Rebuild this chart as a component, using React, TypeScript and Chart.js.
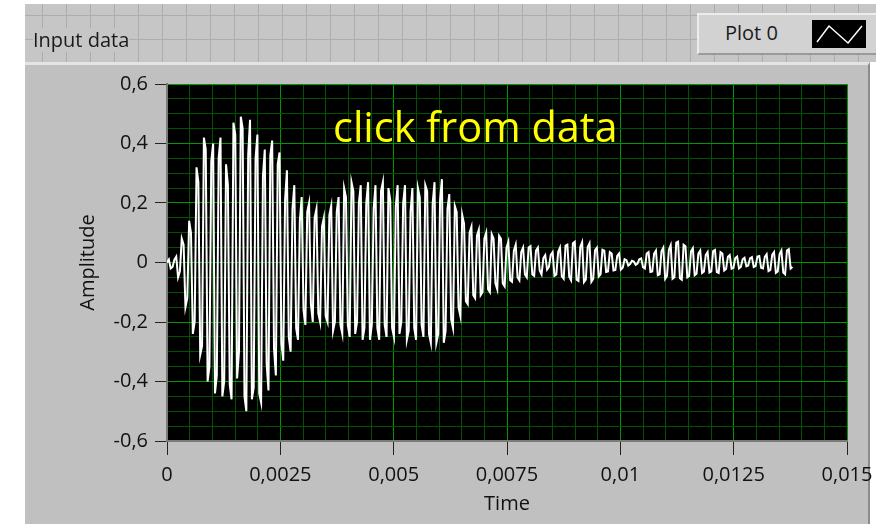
import React, { useEffect, useRef } from 'react';
import { Chart, registerables } from 'chart.js';

Chart.register(...registerables);

// ---- data ----
const sampleInterval = 0.0000407; // seconds between samples
const amplitude: number[] = [
  0, 0.01, -0.02, -0.015, 0.01, 0.02, -0.05, -0.03, 0.08, 0.06, -0.15, -0.12, 0.14, 0.1, -0.24, -0.2, 0.32, 0.27, -0.31, -0.28,
  0.42, 0.38, -0.4, -0.35, 0.34, 0.4, -0.44, -0.38, 0.35, 0.42, -0.45, -0.4, 0.33, 0.26, -0.41, -0.46, 0.47, 0.43, -0.39, -0.3,
  0.49, 0.45, -0.45, -0.5, 0.36, 0.48, -0.46, -0.42, 0.35, 0.43, -0.44, -0.47, 0.29, 0.38, -0.34, -0.43, 0.36, 0.41, -0.29, -0.38,
  0.33, 0.37, -0.27, -0.33, 0.21, 0.31, -0.25, -0.3, 0.18, 0.26, -0.22, -0.26, 0.14, 0.22, -0.16, -0.21, 0.17, 0.2, -0.14, -0.2,
  0.15, 0.18, -0.17, -0.2, 0.12, 0.15, -0.18, -0.2, 0.16, 0.19, -0.23, -0.2, 0.17, 0.22, -0.21, -0.24, 0.25, 0.22, -0.21, -0.25,
  0.27, 0.24, -0.24, -0.2, 0.2, 0.26, -0.26, -0.22, 0.2, 0.27, -0.26, -0.21, 0.18, 0.26, -0.22, -0.26, 0.24, 0.27, -0.21, -0.25,
  0.25, 0.21, -0.22, -0.25, 0.19, 0.26, -0.24, -0.2, 0.2, 0.26, -0.26, -0.23, 0.17, 0.25, -0.22, -0.26, 0.25, 0.22, -0.21, -0.25,
  0.26, 0.24, -0.24, -0.27, 0.2, 0.27, -0.27, -0.24, 0.21, 0.28, -0.27, -0.23, 0.18, 0.23, -0.19, -0.22, 0.19, 0.17, -0.15, -0.18,
  0.16, 0.13, -0.13, -0.14, 0.1, 0.12, -0.11, -0.12, 0.09, 0.11, -0.11, -0.1, 0.08, 0.1, -0.09, -0.1, 0.095, 0.08, -0.07, -0.09,
  0.09, 0.08, -0.07, -0.08, 0.05, 0.07, -0.06, -0.065, 0.04, 0.06, -0.05, -0.06, 0.035, 0.05, -0.04, -0.05, 0.05, 0.055, -0.04, -0.045,
  0.04, 0.05, -0.027, -0.04, 0.015, 0.025, -0.024, -0.015, 0.026, 0.035, -0.045, -0.04, 0.035, 0.05, -0.047, -0.055, 0.057, 0.06, -0.048, -0.06,
  0.065, 0.07, -0.058, -0.062, 0.052, 0.068, -0.066, -0.058, 0.052, 0.065, -0.065, -0.055, 0.042, 0.05, -0.047, -0.04, 0.043, 0.04, -0.032, -0.03,
  0.035, 0.03, -0.027, -0.025, 0.022, 0.03, -0.024, -0.018, 0.011, 0.008, -0.01, -0.005, 0.006, 0.003, -0.008, -0.004, 0.011, 0.014, -0.016, -0.02,
  0.03, 0.035, -0.032, -0.03, 0.03, 0.04, -0.043, -0.04, 0.038, 0.05, -0.055, -0.045, 0.042, 0.058, -0.055, -0.05, 0.067, 0.07, -0.053, -0.058,
  0.06, 0.055, -0.05, -0.045, 0.038, 0.048, -0.043, -0.038, 0.03, 0.04, -0.035, -0.03, 0.025, 0.035, -0.034, -0.03, 0.038, 0.042, -0.032, -0.035,
  0.035, 0.03, -0.027, -0.022, 0.019, 0.025, -0.021, -0.018, 0.015, 0.02, -0.02, -0.015, 0.011, 0.016, -0.013, -0.01, 0.014, 0.018, -0.015, -0.012,
  0.02, 0.022, -0.018, -0.02, 0.019, 0.028, -0.029, -0.025, 0.026, 0.035, -0.035, -0.03, 0.028, 0.04, -0.034, -0.04, 0.04, 0.045, -0.02, -0.015,
];

const xMajorTicks = [0, 0.0025, 0.005, 0.0075, 0.01, 0.0125, 0.015];
const xTickLabels = ['0', '0,0025', '0,005', '0,0075', '0,01', '0,0125', '0,015'];
const yMajorTicks = [-0.6, -0.4, -0.2, 0, 0.2, 0.4, 0.6];
const yTickLabels = ['-0,6', '-0,4', '-0,2', '0', '0,2', '0,4', '0,6'];
const xSubdivisions = 5;
const ySubdivisions = 4;

const seriesName = 'Plot 0';
const graphLabel = 'Input data';
const annotationText = 'click from data';
const xTitle = 'Time';
const yTitle = 'Amplitude';

// ---- styles ----
const FONT = '"Open Sans", "Noto Sans", "DejaVu Sans", sans-serif';
const MAJOR_GRID = '#009800';
const MINOR_GRID = '#005400';

function gridPositions(majors: number[], sub: number): number[] {
  const out: number[] = [];
  for (let i = 0; i < majors.length; i++) {
    out.push(majors[i]);
    if (i < majors.length - 1) {
      const step = (majors[i + 1] - majors[i]) / sub;
      for (let k = 1; k < sub; k++) out.push(majors[i] + step * k);
    }
  }
  return out;
}

function majorIndex(v: number, arr: number[]): number {
  const span = Math.abs(arr[arr.length - 1] - arr[0]);
  return arr.findIndex((m) => Math.abs(m - v) < span * 1e-6);
}

export default function App() {
  const canvasRef = useRef<HTMLCanvasElement | null>(null);

  useEffect(() => {
    document.body.style.margin = '0';
    const canvas = canvasRef.current;
    if (!canvas) return;
    const xGrid = gridPositions(xMajorTicks, xSubdivisions);
    const yGrid = gridPositions(yMajorTicks, ySubdivisions);

    const plotBg = {
      id: 'plotBg',
      beforeDraw(chart: any) {
        const { ctx, chartArea: a } = chart;
        ctx.save();
        ctx.fillStyle = '#000000';
        ctx.fillRect(a.left, a.top, a.right - a.left, a.bottom - a.top);
        ctx.restore();
      },
    };

    const chart = new Chart(canvas, {
      type: 'scatter',
      data: {
        datasets: [
          {
            label: seriesName,
            data: amplitude.map((y, i) => ({ x: i * sampleInterval, y })),
            showLine: true,
            borderColor: '#ffffff',
            backgroundColor: '#ffffff',
            borderWidth: 2,
            pointRadius: 0,
            tension: 0,
          },
        ],
      },
      options: {
        animation: false,
        responsive: false,
        layout: { padding: { left: 70, top: 84, right: 53, bottom: 8 } },
        plugins: { legend: { display: false }, tooltip: { enabled: false } },
        scales: {
          x: {
            type: 'linear',
            min: xMajorTicks[0],
            max: xMajorTicks[xMajorTicks.length - 1],
            afterFit: (s: any) => {
              s.height = 75;
            },
            afterBuildTicks: (s: any) => {
              s.ticks = xGrid.map((v) => ({ value: v }));
            },
            ticks: {
              autoSkip: false,
              maxRotation: 0,
              minRotation: 0,
              padding: 8,
              color: '#111111',
              font: { family: FONT, size: 20 },
              callback: (v: any) => {
                const k = majorIndex(Number(v), xMajorTicks);
                return k >= 0 ? xTickLabels[k] : '';
              },
            },
            grid: {
              color: (c: any) => (majorIndex(c.tick.value, xMajorTicks) >= 0 ? MAJOR_GRID : MINOR_GRID),
              lineWidth: 1,
              tickLength: 14,
              tickColor: (c: any) =>
                majorIndex(c.tick.value, xMajorTicks) >= 0 ? '#222222' : 'rgba(0,0,0,0)',
            },
            border: { display: true, color: '#7a7a7a', width: 2 },
            title: {
              display: true,
              text: xTitle,
              color: '#111111',
              font: { family: FONT, size: 20 },
              padding: { top: 0, bottom: 0 },
            },
          },
          y: {
            type: 'linear',
            min: yMajorTicks[0],
            max: yMajorTicks[yMajorTicks.length - 1],
            afterFit: (s: any) => {
              s.width = 97;
            },
            afterBuildTicks: (s: any) => {
              s.ticks = yGrid.map((v) => ({ value: v }));
            },
            ticks: {
              autoSkip: false,
              padding: 7,
              color: '#111111',
              font: { family: FONT, size: 20 },
              callback: (v: any) => {
                const k = majorIndex(Number(v), yMajorTicks);
                return k >= 0 ? yTickLabels[k] : '';
              },
            },
            grid: {
              color: (c: any) => (majorIndex(c.tick.value, yMajorTicks) >= 0 ? MAJOR_GRID : MINOR_GRID),
              lineWidth: 1,
              tickLength: 12,
              tickColor: (c: any) =>
                majorIndex(c.tick.value, yMajorTicks) >= 0 ? '#222222' : 'rgba(0,0,0,0)',
            },
            border: { display: true, color: '#7a7a7a', width: 2 },
            title: {
              display: true,
              text: yTitle,
              color: '#111111',
              font: { family: FONT, size: 20 },
              padding: { top: 6, bottom: 0 },
            },
          },
        },
      } as any,
      plugins: [plotBg],
    });

    return () => chart.destroy();
  }, []);

  return (
    <div
      style={{
        position: 'relative',
        width: 876,
        height: 524,
        overflow: 'hidden',
        background: '#ffffff',
        fontFamily: FONT,
      }}
    >
      {/* front-panel grid area */}
      <div
        style={{
          position: 'absolute',
          left: 25,
          top: 4,
          width: 851,
          height: 58,
          backgroundColor: '#c6c6c6',
          backgroundImage:
            'linear-gradient(to right, #adadad 1px, transparent 1px), linear-gradient(to bottom, #adadad 1px, transparent 1px)',
          backgroundSize: '24px 24px',
          backgroundPosition: '17px 11px',
        }}
      />
      {/* graph frame */}
      <div
        style={{
          position: 'absolute',
          left: 25,
          top: 62,
          width: 845,
          height: 462,
          boxSizing: 'border-box',
          background: '#c0c0c0',
          borderTop: '3px solid #e4e4e4',
          borderRight: '2px solid #8c8c8c',
        }}
      />
      <canvas
        ref={canvasRef}
        width={900}
        height={524}
        style={{ position: 'absolute', left: 0, top: 0, width: 900, height: 524 }}
      />
      {/* graph label */}
      <div
        style={{
          position: 'absolute',
          left: 33,
          top: 28,
          fontSize: 20,
          lineHeight: '24px',
          color: '#1a1a1a',
          background: '#c6c6c6',
          whiteSpace: 'nowrap',
        }}
      >
        {graphLabel}
      </div>
      {/* plot legend */}
      <div
        style={{
          position: 'absolute',
          left: 697,
          top: 13,
          width: 179,
          height: 42,
          boxSizing: 'border-box',
          background: '#d2d2d2',
          borderTop: '2px solid #ececec',
          borderLeft: '2px solid #ececec',
          borderBottom: '2px solid #9a9a9a',
        }}
      >
        <div
          style={{
            position: 'absolute',
            left: 26,
            top: 6,
            fontSize: 20,
            lineHeight: '24px',
            color: '#1a1a1a',
            whiteSpace: 'nowrap',
          }}
        >
          {seriesName}
        </div>
        <svg
          width={54}
          height={28}
          style={{ position: 'absolute', left: 113, top: 5, background: '#000000' }}
        >
          <polyline points="5,22 17,6 36,23 50,6" fill="none" stroke="#ffffff" strokeWidth={1.5} />
        </svg>
      </div>
      {/* annotation */}
      <div
        style={{
          position: 'absolute',
          left: 333,
          top: 103,
          fontSize: 41.5,
          lineHeight: '46px',
          color: '#ffff00',
          whiteSpace: 'nowrap',
        }}
      >
        {annotationText}
      </div>
    </div>
  );
}
